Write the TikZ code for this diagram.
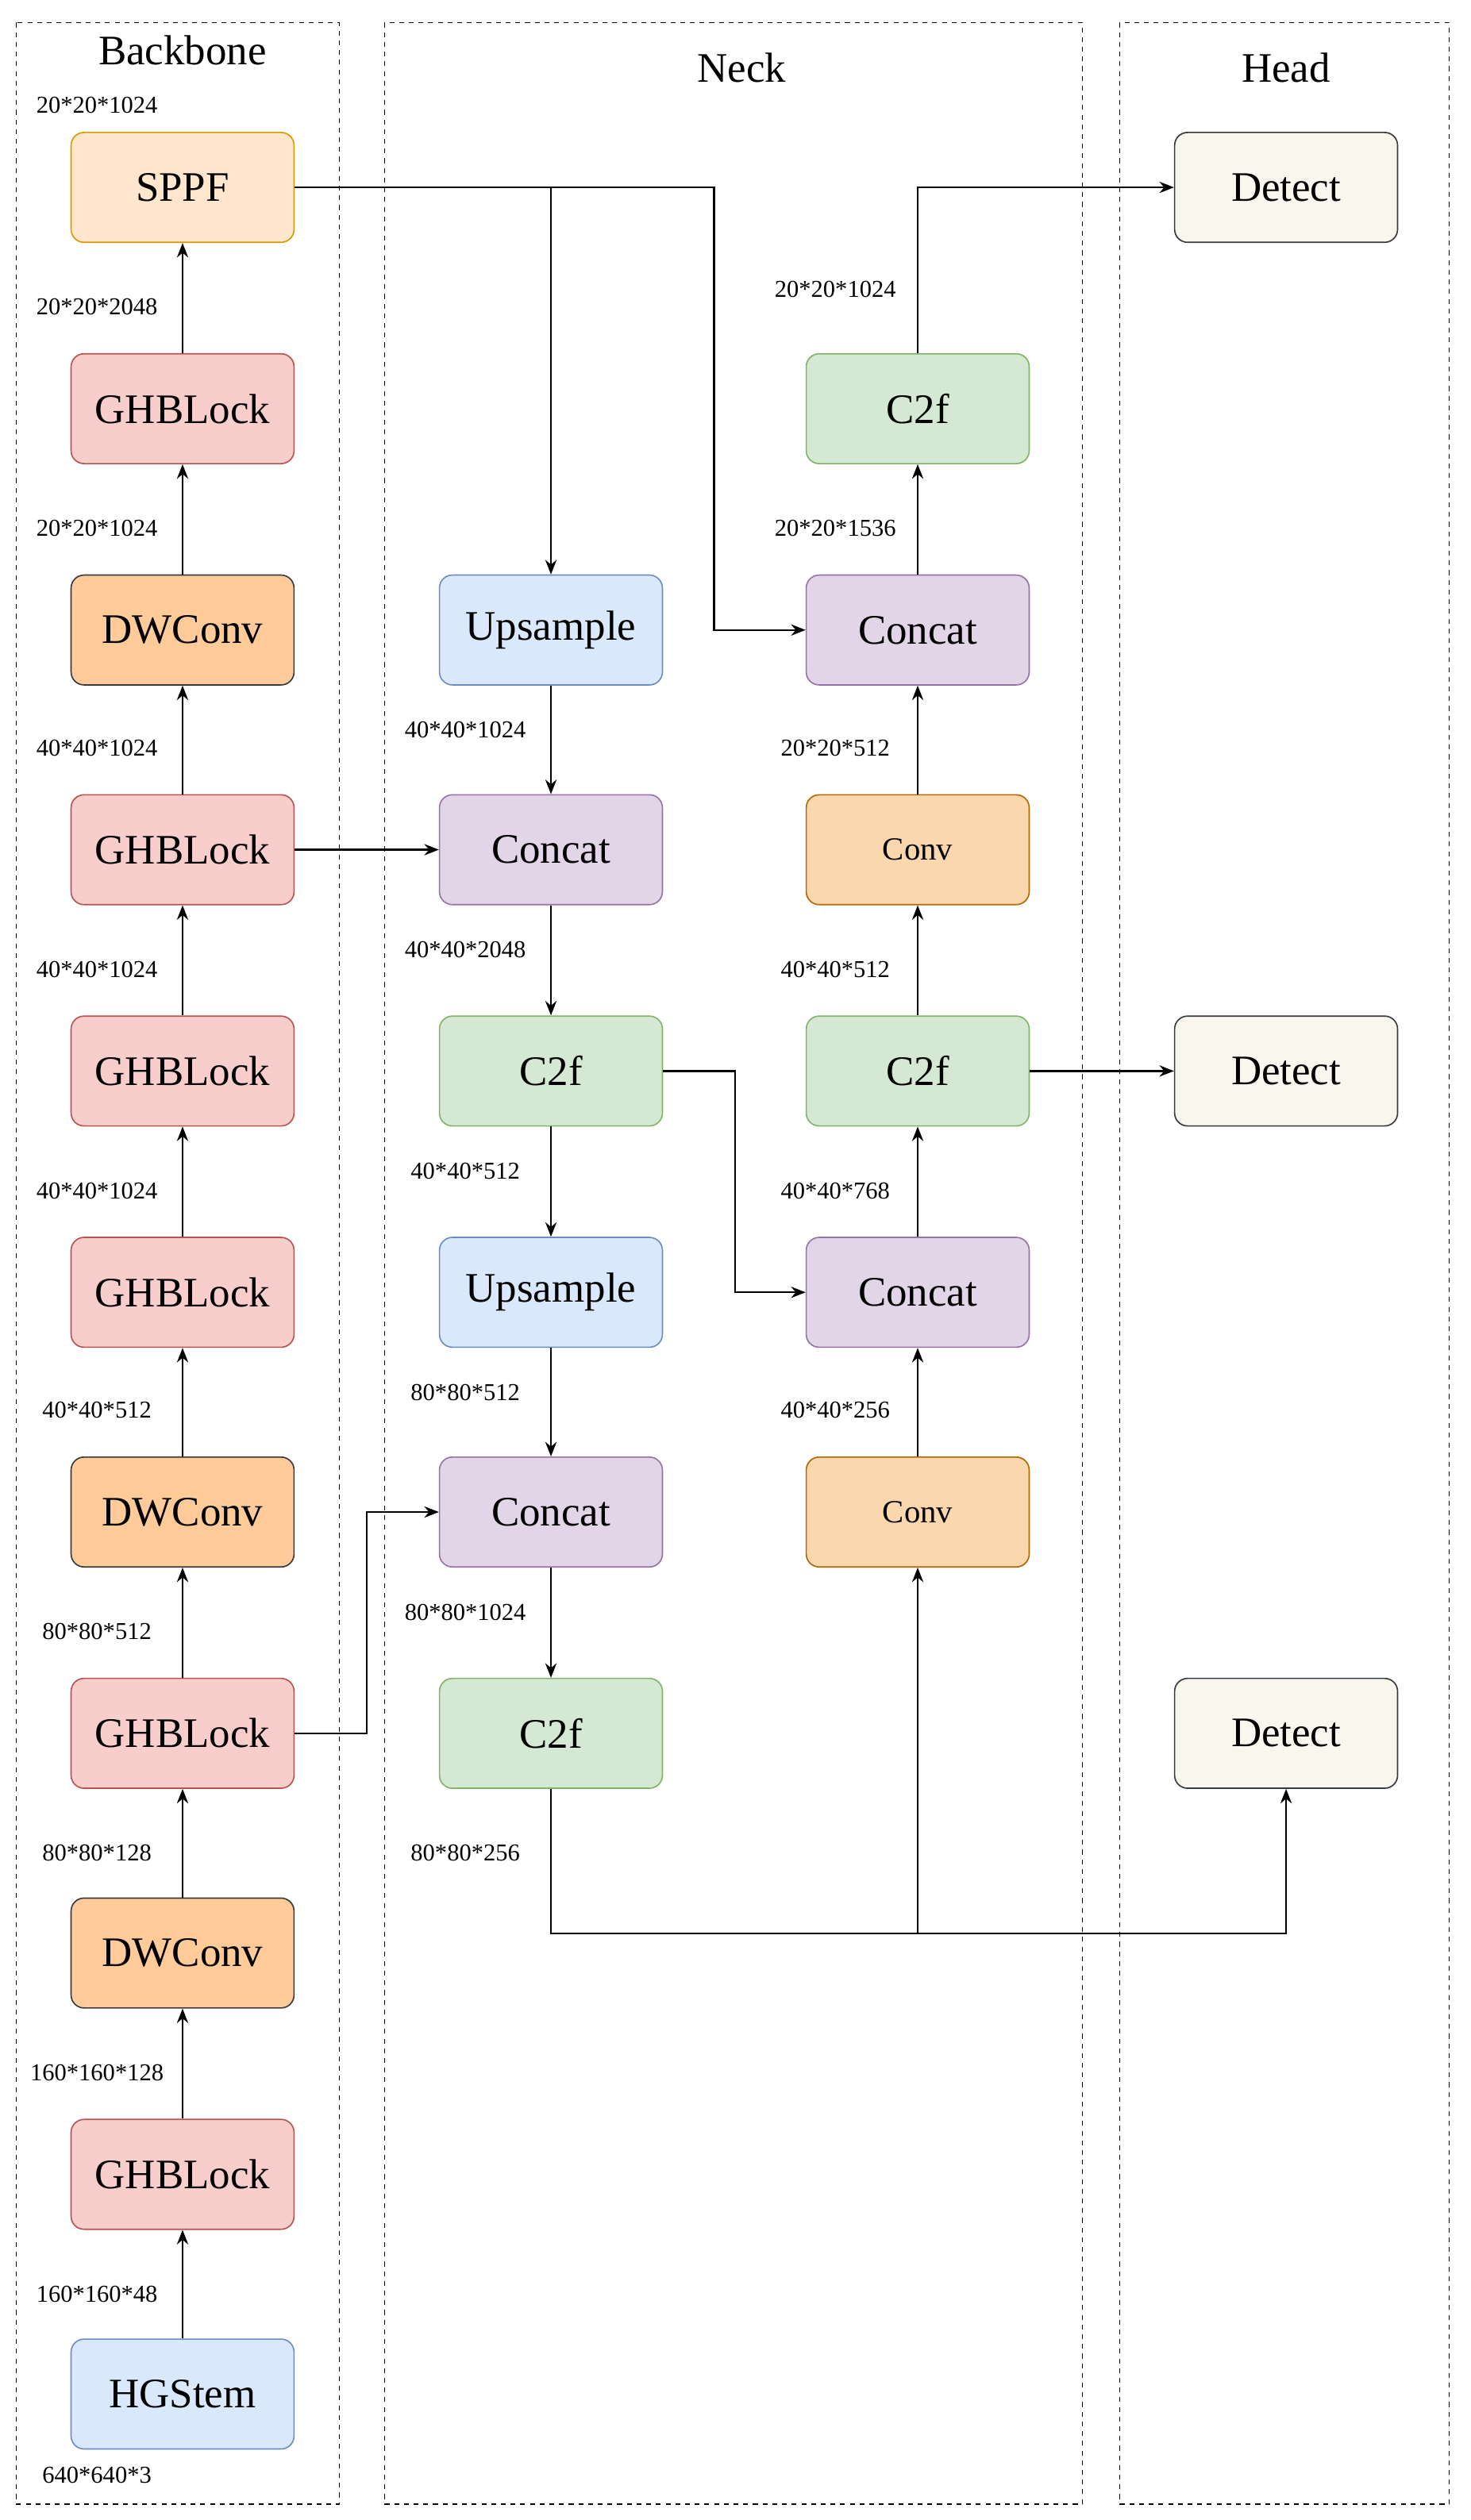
\documentclass[tikz,border=0pt]{standalone}
\usepackage{fontspec}
\setmainfont{Liberation Serif}
\usetikzlibrary{arrows.meta}
\begin{document}
\begin{tikzpicture}[x=1pt,y=-1pt,
  blk/.style={draw,rounded corners=8pt,minimum width=138pt,minimum height=68pt,font=\fontsize{26}{28}\selectfont,line width=0.8pt},
  sppf/.style={blk,fill=orange!20!white,draw=orange!80!black,fill={rgb,255:red,255;green,230;blue,204},draw={rgb,255:red,215;green,155;blue,0}},
  ghb/.style={blk,fill={rgb,255:red,248;green,206;blue,204},draw={rgb,255:red,184;green,84;blue,80}},
  dw/.style={blk,fill={rgb,255:red,255;green,204;blue,153},draw={rgb,255:red,54;green,57;blue,61}},
  blu/.style={blk,fill={rgb,255:red,218;green,232;blue,252},draw={rgb,255:red,108;green,142;blue,191}},
  cat/.style={blk,fill={rgb,255:red,225;green,213;blue,231},draw={rgb,255:red,150;green,115;blue,166}},
  cf/.style={blk,fill={rgb,255:red,213;green,232;blue,212},draw={rgb,255:red,130;green,179;blue,102}},
  cv/.style={blk,fill={rgb,255:red,250;green,215;blue,172},draw={rgb,255:red,180;green,101;blue,4},font=\fontsize{20}{22}\selectfont},
  det/.style={blk,fill={rgb,255:red,249;green,247;blue,237},draw={rgb,255:red,54;green,57;blue,61}},
  lab/.style={font=\fontsize{15}{17}\selectfont},
  ttl/.style={font=\fontsize{26}{28}\selectfont},
  box/.style={draw,dashed,line width=0.8pt},
  ar/.style={-{Stealth[length=9pt,width=7pt]},line width=1.1pt},
  ln/.style={line width=1.1pt}]
\useasboundingbox (0,0) rectangle (910,1560);
\fill[white] (0,0) rectangle (910,1560);
\draw[box] (10,14) rectangle (210,1550);
\draw[box] (238,14) rectangle (670,1550);
\draw[box] (693,14) rectangle (897,1550);
\node[ttl] (tb) at (113,31) {Backbone};
\node[ttl] (tn) at (459,42) {Neck};
\node[ttl] (th) at (796,42) {Head};
% backbone
\node[sppf] (b1) at (113,116) {SPPF};
\node[ghb] (b2) at (113,253) {GHBLock};
\node[dw] (b3) at (113,390) {DWConv};
\node[ghb] (b4) at (113,526) {GHBLock};
\node[ghb] (b5) at (113,663) {GHBLock};
\node[ghb] (b6) at (113,800) {GHBLock};
\node[dw] (b7) at (113,936) {DWConv};
\node[ghb] (b8) at (113,1073) {GHBLock};
\node[dw] (b9) at (113,1209) {DWConv};
\node[ghb] (b10) at (113,1346) {GHBLock};
\node[blu] (b11) at (113,1482) {HGStem};
\foreach \a/\b in {b11/b10,b10/b9,b9/b8,b8/b7,b7/b6,b6/b5,b5/b4,b4/b3,b3/b2,b2/b1} \draw[ar] (\a) -- (\b);
\node[lab] (l1) at (60,65) {20*20*1024};
\node[lab] (l2) at (60,190) {20*20*2048};
\node[lab] (l3) at (60,327) {20*20*1024};
\node[lab] (l4) at (60,463) {40*40*1024};
\node[lab] (l5) at (60,600) {40*40*1024};
\node[lab] (l6) at (60,737) {40*40*1024};
\node[lab] (l7) at (60,873) {40*40*512};
\node[lab] (l8) at (60,1010) {80*80*512};
\node[lab] (l9) at (60,1147) {80*80*128};
\node[lab] (l10) at (60,1283) {160*160*128};
\node[lab] (l11) at (60,1420) {160*160*48};
\node[lab] (l12) at (60,1532) {640*640*3};
% neck col1
\node[blu] (u1) at (341,390) {Upsample};
\node[cat] (c1) at (341,526) {Concat};
\node[cf] (f1) at (341,663) {C2f};
\node[blu] (u2) at (341,800) {Upsample};
\node[cat] (c2) at (341,936) {Concat};
\node[cf] (f2) at (341,1073) {C2f};
\node[lab] (m1) at (288,452) {40*40*1024};
\node[lab] (m2) at (288,588) {40*40*2048};
\node[lab] (m3) at (288,725) {40*40*512};
\node[lab] (m4) at (288,862) {80*80*512};
\node[lab] (m5) at (288,998) {80*80*1024};
\node[lab] (m6) at (288,1147) {80*80*256};
% neck col2
\node[cf] (f4) at (568,253) {C2f};
\node[cat] (c4) at (568,390) {Concat};
\node[cv] (v4) at (568,526) {Conv};
\node[cf] (f3) at (568,663) {C2f};
\node[cat] (c3) at (568,800) {Concat};
\node[cv] (v3) at (568,936) {Conv};
\node[lab] (n1) at (517,179) {20*20*1024};
\node[lab] (n2) at (517,327) {20*20*1536};
\node[lab] (n3) at (517,463) {20*20*512};
\node[lab] (n4) at (517,600) {40*40*512};
\node[lab] (n5) at (517,737) {40*40*768};
\node[lab] (n6) at (517,873) {40*40*256};
% head
\node[det] (d1) at (796,116) {Detect};
\node[det] (d2) at (796,663) {Detect};
\node[det] (d3) at (796,1073) {Detect};
% connectors
\coordinate (j1) at (341,116);
\coordinate (j2) at (568,1197);
\draw[ar] (b1.east) -- (442,116) |- (c4.west);
\draw[ar] (j1) -- (u1.north);
\draw[ar] (u1) -- (c1);
\draw[ar] (b4) -- (c1);
\draw[ar] (c1) -- (f1);
\draw[ar] (f1.east) -- (455,663) |- (c3.west);
\draw[ar] (f1) -- (u2);
\draw[ar] (u2) -- (c2);
\draw[ar] (b8.east) -- (227,1073) |- (c2.west);
\draw[ar] (c2) -- (f2);
\draw[ar] (f2.south) |- (j2) -| (d3.south);
\draw[ar] (j2) -- (v3.south);
\draw[ar] (v3) -- (c3);
\draw[ar] (c3) -- (f3);
\draw[ar] (f3) -- (v4);
\draw[ar] (v4) -- (c4);
\draw[ar] (c4) -- (f4);
\draw[ar] (f4.north) |- (d1.west);
\draw[ar] (f3) -- (d2);
\end{tikzpicture}
\end{document}
